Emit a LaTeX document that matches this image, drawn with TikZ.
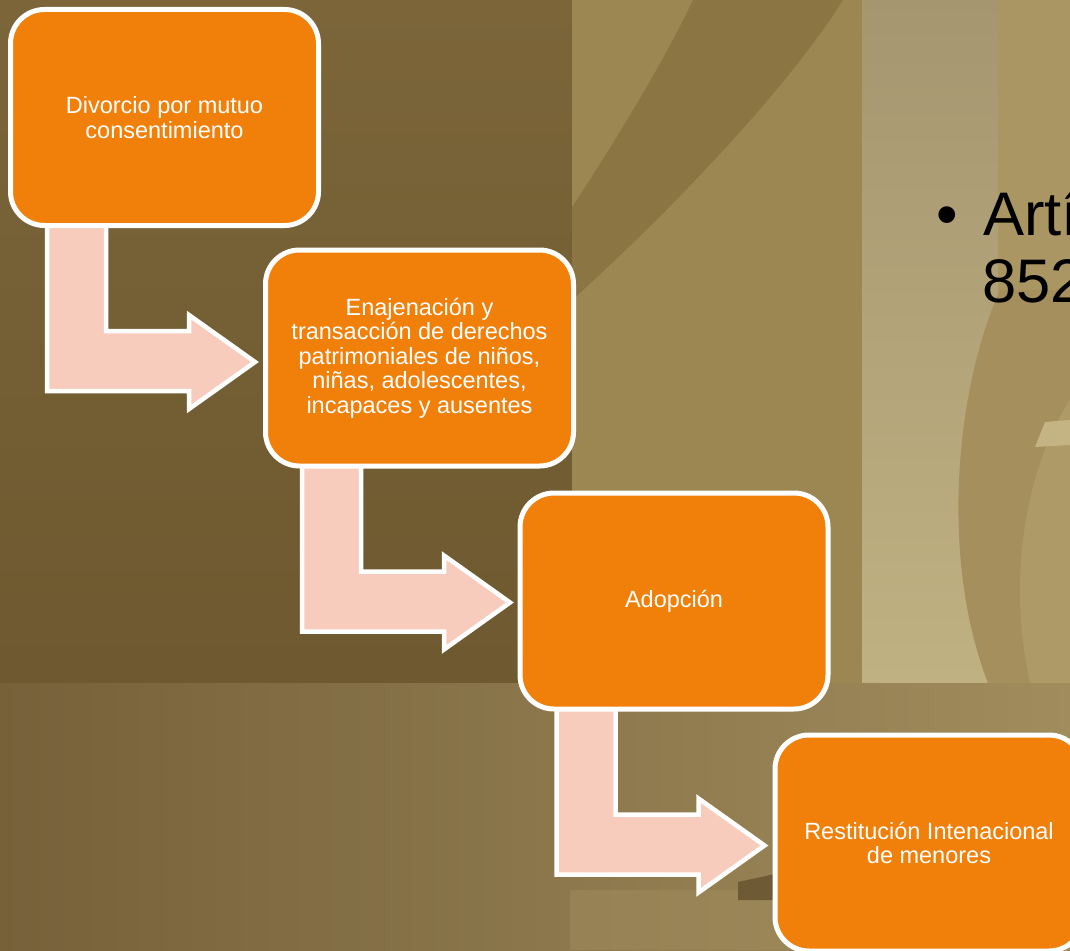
\documentclass[tikz,border=0pt]{standalone}
\usepackage{fontspec}
\newfontfamily\boxfont{Liberation Sans}
\usetikzlibrary{calc}
\definecolor{boxorange}{HTML}{F0800A}
\definecolor{arrowpink}{HTML}{F8CCBC}
\definecolor{bgLtop}{HTML}{7B6539}
\definecolor{bgLbot}{HTML}{6E5930}
\definecolor{bgR}{HTML}{9C8753}
\definecolor{bgBand}{HTML}{8B7543}
\definecolor{bgColTop}{HTML}{A69670}
\definecolor{bgColBot}{HTML}{C0B182}
\definecolor{bgStrip}{HTML}{A99662}
\definecolor{bgArc}{HTML}{A58F5C}
\definecolor{bgInner}{HTML}{AE9A66}
\definecolor{bgCross}{HTML}{C4B484}
\definecolor{bgBotL}{HTML}{76613A}
\definecolor{bgBotR}{HTML}{A08C5C}
\definecolor{bgDark}{HTML}{6E5A35}
\pgfdeclarelayer{bg}
\pgfdeclarelayer{mid}
\pgfsetlayers{bg,mid,main}
\tikzset{
  stepbox/.style={draw=white, line width=5pt, fill=boxorange, rounded corners=34pt,
    minimum width=308pt, minimum height=216pt, inner sep=0pt, text=white, align=center,
    font=\boxfont\fontsize{23.5}{24.6}\selectfont},
  bentarrow/.style={draw=white, line width=4.5pt, fill=arrowpink, line join=miter},
  arttext/.style={inner sep=0pt, text=black, font=\boxfont\fontsize{61.5}{67}\selectfont}
}
\begin{document}
\begin{tikzpicture}[x=1pt,y=-1pt]
\useasboundingbox (0,0) rectangle (1070,950);
\clip (0,0) rectangle (1070,950);

% boxes
\node[stepbox] (b1) at (164.5,117.5) {Divorcio por mutuo\\consentimiento};
\node[stepbox] (b2) at (419.5,358) {Enajenación y\\transacción de derechos\\patrimoniales de niños,\\niñas, adolescentes,\\incapaces y ausentes};
\node[stepbox] (b3) at (674,601) {Adopción};
\node[stepbox] (b4) at (929,843) {Restitución Intenacional\\de menores};

% text on the right
\node[arttext, anchor=base] (bul) at (947,235) {•};
\node[arttext, anchor=base west] (art) at (983,235) {Artículo};
\node[arttext, anchor=base west] (num) at (982,302) {852};

% bent arrows (under the boxes)
\begin{pgfonlayer}{mid}
\foreach \s in {b1,b2,b3}{
  \draw[bentarrow, shift={(\s.center)}]
    (-117.5,100) -- (-117.5,273.5) -- (24.5,273.5) -- (24.5,291.5) -- (90.5,244.5)
    -- (24.5,197.5) -- (24.5,213.5) -- (-58.5,213.5) -- (-58.5,100) -- cycle;
}
\end{pgfonlayer}

% background
\begin{pgfonlayer}{bg}
\clip (0,0) rectangle (1070,950);
\shade[top color=bgLtop, bottom color=bgLbot] (0,0) rectangle (572,683);
\fill[bgR] (572,0) rectangle (1070,683);
\fill[bgBand] (693,0) .. controls (665,60) and (610,150) .. (572,207)
  -- (572,300) .. controls (650,230) and (780,100) .. (843,0) -- cycle;
\shade[top color=bgColTop, bottom color=bgColBot] (862,0) rectangle (998,683);
\fill[bgStrip] (998,0) rectangle (1070,683);
\fill[bgColBot] (998,300) .. controls (960,380) and (945,560) .. (985,683)
  -- (1070,683) -- (1070,300) -- cycle;
\fill[bgArc] (1000,290) .. controls (955,390) and (940,560) .. (988,683)
  -- (1070,683) -- (1070,290) -- cycle;
\fill[bgInner] (1070,400) .. controls (1030,460) and (1005,570) .. (1030,683)
  -- (1070,683) -- cycle;
\fill[bgCross] (1045,422) -- (1070,420) -- (1070,445) -- (1035,447) -- cycle;
\shade[left color=bgBotL, right color=bgBotR] (0,683) rectangle (1070,950);
\fill[bgBotR, opacity=0.5] (570,890) rectangle (1070,950);
\fill[bgDark] (738,882) -- (775,874) -- (775,900) -- (738,900) -- cycle;
\end{pgfonlayer}
\end{tikzpicture}
\end{document}
